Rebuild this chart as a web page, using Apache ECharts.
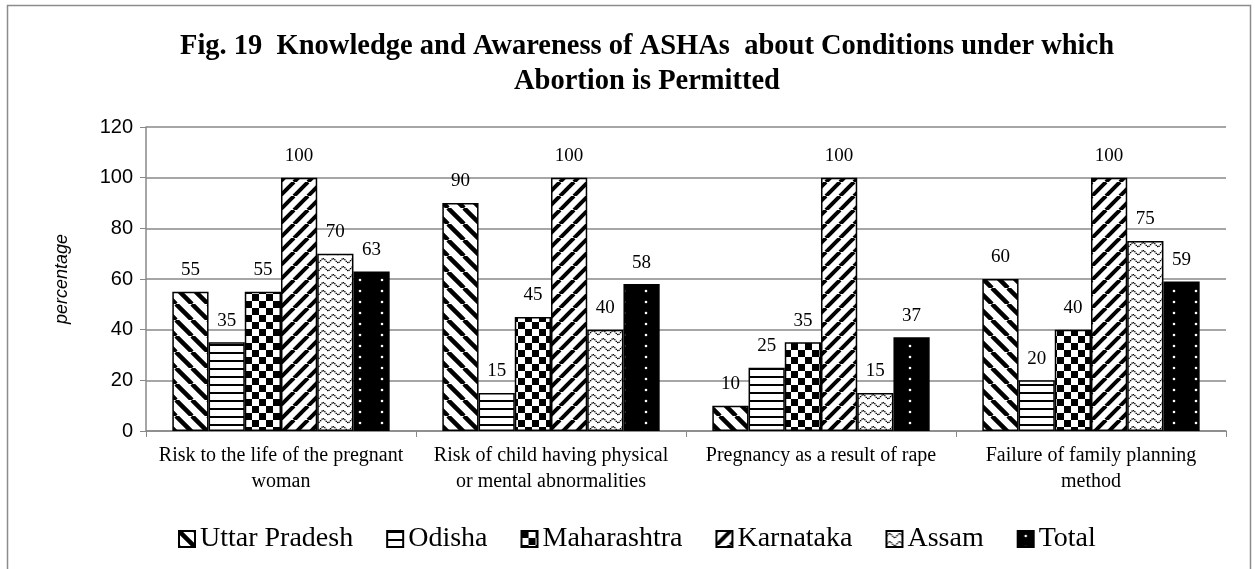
<!DOCTYPE html>
<html>
<head>
<meta charset="utf-8">
<script src="https://cdn.jsdelivr.net/npm/echarts@6/dist/echarts.min.js"></script>
<style>
html, body { margin: 0; padding: 0; background: #fff; }
#chart { width: 1255px; height: 569px; }
</style>
</head>
<body>
<div id="chart"></div>
<script>
var categories = ['Risk to the life of the pregnant\nwoman', 'Risk of child having physical\nor mental abnormalities', 'Pregnancy as a result of rape', 'Failure of family planning\nmethod'];
var states = ['Uttar Pradesh', 'Odisha', 'Maharashtra', 'Karnataka', 'Assam', 'Total'];
var uttarPradesh = [55, 90, 10, 60];
var odisha = [35, 15, 25, 20];
var maharashtra = [55, 45, 35, 40];
var karnataka = [100, 100, 100, 100];
var assam = [70, 40, 15, 75];
var total = [63, 58, 37, 59];
var yTicks = [0, 20, 40, 60, 80, 100, 120];

function tile(w, h, draw) {
    var c = document.createElement('canvas');
    c.width = w; c.height = h;
    var ctx = c.getContext('2d');
    draw(ctx, w, h);
    return c;
}

// hatch patterns, like the old office chart fills
var pDown = tile(16, 16, function (ctx, s) {
    ctx.fillStyle = '#fff'; ctx.fillRect(0, 0, s, s);
    ctx.strokeStyle = '#000'; ctx.lineWidth = 4.5;
    for (var k = -1; k <= 1; k++) {
        ctx.beginPath(); ctx.moveTo(k * s, 0); ctx.lineTo(k * s + s, s); ctx.stroke();
    }
});
var pHoriz = tile(8, 8, function (ctx, s) {
    ctx.fillStyle = '#fff'; ctx.fillRect(0, 0, s, s);
    ctx.fillStyle = '#000'; ctx.fillRect(0, 0, s, 2);
});
var pCheck = tile(14, 14, function (ctx, s) {
    ctx.fillStyle = '#fff'; ctx.fillRect(0, 0, s, s);
    ctx.fillStyle = '#000'; ctx.fillRect(0, 0, 7, 7); ctx.fillRect(7, 7, 7, 7);
});
var pUp = tile(14, 14, function (ctx, s) {
    ctx.fillStyle = '#fff'; ctx.fillRect(0, 0, s, s);
    ctx.strokeStyle = '#000'; ctx.lineWidth = 4;
    for (var k = -1; k <= 1; k++) {
        ctx.beginPath(); ctx.moveTo(k * s, s); ctx.lineTo(k * s + s, 0); ctx.stroke();
    }
});
var pWave = tile(10, 8, function (ctx, w, h) {
    ctx.fillStyle = '#fff'; ctx.fillRect(0, 0, w, h);
    ctx.fillStyle = '#000';
    for (var x = 0; x < w; x += 1.4) {
        var y = 4 - 2 * Math.sin(2 * Math.PI * x / w);
        ctx.fillRect(x, y, 1.3, 1.3);
    }
});
var pDots = tile(22, 11, function (ctx, w, h) {
    ctx.fillStyle = '#000'; ctx.fillRect(0, 0, w, h);
    ctx.fillStyle = '#fff';
    ctx.beginPath(); ctx.arc(8, 5, 1.3, 0, Math.PI * 2); ctx.fill();
});

var fills = [pDown, pHoriz, pCheck, pUp, pWave, pDots];
var values = [uttarPradesh, odisha, maharashtra, karnataka, assam, total];

var myChart = echarts.init(document.getElementById('chart'));

var series = states.map(function (name, i) {
    return {
        name: name,
        type: 'bar',
        data: values[i],
        barGap: 0,
        barCategoryGap: '19.5%',
        itemStyle: {
            color: { image: fills[i], repeat: 'repeat' },
            borderColor: '#000',
            borderWidth: 1.5
        },
        label: {
            show: true,
            position: 'top',
            distance: 12,
            color: '#000',
            fontFamily: 'Liberation Serif',
            fontSize: 19
        }
    };
});

option = {
    animation: false,
    title: {
        text: 'Fig. 19  Knowledge and Awareness of ASHAs  about Conditions under which\nAbortion is Permitted',
        left: 642,
        textAlign: 'center',
        top: 24,
        textStyle: {
            fontFamily: 'Liberation Serif',
            fontWeight: 'bold',
            fontSize: 28.5,
            lineHeight: 35,
            color: '#000'
        }
    },
    graphic: [{
        type: 'rect',
        shape: { x: 7.5, y: 5.5, width: 1243, height: 620 },
        style: { fill: 'none', stroke: '#8c8c8c', lineWidth: 1.5 },
        silent: true
    }],
    legend: {
        data: states,
        top: 520,
        left: 173,
        icon: 'rect',
        itemWidth: 16,
        itemHeight: 16,
        itemGap: 33,
        textStyle: {
            fontFamily: 'Liberation Serif',
            fontSize: 28,
            color: '#000'
        }
    },
    grid: {
        left: 146,
        right: 29,
        top: 127,
        bottom: 138
    },
    xAxis: [{
        type: 'category',
        data: categories,
        axisLine: { lineStyle: { color: '#888', width: 1.5 } },
        axisTick: { show: true, length: 6, lineStyle: { color: '#888' } },
        axisLabel: {
            interval: 0,
            margin: 12,
            color: '#000',
            fontFamily: 'Liberation Serif',
            fontSize: 20,
            lineHeight: 26
        }
    }],
    yAxis: [{
        type: 'value',
        min: yTicks[0],
        max: yTicks[yTicks.length - 1],
        interval: 20,
        name: 'percentage',
        nameLocation: 'middle',
        nameGap: 75,
        nameTextStyle: {
            fontFamily: 'Liberation Sans',
            fontStyle: 'italic',
            fontSize: 18,
            color: '#000'
        },
        axisLine: { show: true, lineStyle: { color: '#888', width: 1.5 } },
        axisTick: { show: true, length: 6, lineStyle: { color: '#888' } },
        splitLine: { lineStyle: { color: '#888', width: 1.5 } },
        axisLabel: {
            margin: 13,
            color: '#000',
            fontFamily: 'Liberation Sans',
            fontSize: 20
        }
    }],
    series: series
};

myChart.setOption(option);
</script>
</body>
</html>
